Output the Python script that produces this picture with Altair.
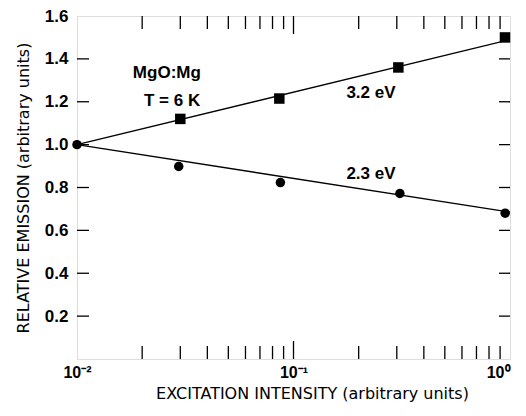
import altair as alt
import pandas as pd

# ---- data ----
sq_x = [0.030, 0.086, 0.305, 0.948]          # 3.2 eV (squares)
sq_y = [1.12, 1.215, 1.36, 1.50]
ci_x = [0.010, 0.0295, 0.087, 0.31, 0.95]    # 2.3 eV (circles)
ci_y = [1.00, 0.898, 0.823, 0.772, 0.68]

fit_series = ["3.2 eV", "3.2 eV", "2.3 eV", "2.3 eV"]
fit_x = [0.01, 1.0, 0.01, 1.0]
fit_y = [1.0, 1.49, 1.0, 0.685]

x_minor = [0.02, 0.03, 0.04, 0.05, 0.06, 0.07, 0.08, 0.09,
           0.2, 0.3, 0.4, 0.5, 0.6, 0.7, 0.8, 0.9]
x_major = [0.1]
x_labels = [0.01, 0.1, 1.0]
y_ticks = [0.2, 0.4, 0.6, 0.8, 1.0, 1.2, 1.4]
y_labels = [0.2, 0.4, 0.6, 0.8, 1.0, 1.2, 1.4, 1.6]

W, H = 433, 343

sq = pd.DataFrame({"x": sq_x, "y": sq_y})
ci = pd.DataFrame({"x": ci_x, "y": ci_y})
fit = pd.DataFrame({"series": fit_series, "x": fit_x, "y": fit_y})
xmin = pd.DataFrame({"x": x_minor})
xmaj = pd.DataFrame({"x": x_major})
yt = pd.DataFrame({"y": y_ticks})

xscale = alt.Scale(type="log", domain=[0.01, 1.0], nice=False)
yscale = alt.Scale(domain=[0, 1.6], nice=False, zero=False)

xaxis = alt.Axis(
    values=x_labels,
    labelExpr="datum.value == 1 ? '10⁰' : (datum.value < 0.05 ? '10⁻²' : '10⁻¹')",
    labelAlign={"condition": {"test": "datum.value >= 1", "value": "right"}, "value": "center"},
    labelFont="Liberation Sans", labelFontSize=16, labelFontWeight="bold",
    labelColor="black", labelPadding=5, labelBaseline="top",
    ticks=False, tickSize=0, domain=False, grid=False,
    title="EXCITATION INTENSITY (arbitrary units)",
    titleFont="DejaVu Sans", titleFontSize=16, titleFontWeight="normal",
    titleColor="black", titleX=235, titleY=26, titleBaseline="top",
)
yaxis = alt.Axis(
    values=y_labels, format=".1f",
    labelFont="Liberation Sans", labelFontSize=17, labelFontWeight="bold",
    labelColor="black", labelPadding=9,
    ticks=False, tickSize=0, domain=False, grid=False,
    title="RELATIVE EMISSION (arbitrary units)",
    titleFont="DejaVu Sans", titleFontSize=16, titleFontWeight="normal",
    titleColor="black", titleX=-46, titleY=H / 2, titleAngle=270,
    titleBaseline="bottom", titleAlign="center",
)


def X(field="x"):
    return alt.X(f"{field}:Q", scale=xscale, axis=xaxis)


def Y(field="y"):
    return alt.Y(f"{field}:Q", scale=yscale, axis=yaxis)


lines = alt.Chart(fit).mark_line(color="black", strokeWidth=1.4).encode(
    x=X(), y=Y(), detail="series:N"
)
squares = alt.Chart(sq).mark_point(
    shape="square", filled=True, color="black", opacity=1, size=110
).encode(x=X(), y=Y())
circles = alt.Chart(ci).mark_point(
    shape="circle", filled=True, color="black", opacity=1, size=90
).encode(x=X(), y=Y())

tick_bot_min = alt.Chart(xmin).mark_rule(color="black", strokeWidth=1.3).encode(
    x=X(), y=alt.value(H), y2=alt.value(H - 13))
tick_top_min = alt.Chart(xmin).mark_rule(color="black", strokeWidth=1.3).encode(
    x=X(), y=alt.value(0), y2=alt.value(13))
tick_bot_maj = alt.Chart(xmaj).mark_rule(color="black", strokeWidth=1.3).encode(
    x=X(), y=alt.value(H), y2=alt.value(H - 18))
tick_top_maj = alt.Chart(xmaj).mark_rule(color="black", strokeWidth=1.3).encode(
    x=X(), y=alt.value(0), y2=alt.value(18))
tick_left = alt.Chart(yt).mark_rule(color="black", strokeWidth=1.3).encode(
    y=Y(), x=alt.value(0), x2=alt.value(12))
tick_right = alt.Chart(yt).mark_rule(color="black", strokeWidth=1.3).encode(
    y=Y(), x=alt.value(W), x2=alt.value(W - 11))

txt_style = dict(font="Liberation Sans", fontSize=17, fontWeight="bold",
                 color="black", align="center", baseline="middle")
t1 = alt.Chart().mark_text(text="MgO:Mg", **txt_style).encode(
    x=alt.datum(0.026, scale=xscale), y=alt.datum(1.335, scale=yscale))
t2 = alt.Chart().mark_text(text="T = 6 K", **txt_style).encode(
    x=alt.datum(0.0275, scale=xscale), y=alt.datum(1.205, scale=yscale))
t3 = alt.Chart().mark_text(text="3.2 eV", **txt_style).encode(
    x=alt.datum(0.228, scale=xscale), y=alt.datum(1.242, scale=yscale))
t4 = alt.Chart().mark_text(text="2.3 eV", **txt_style).encode(
    x=alt.datum(0.228, scale=xscale), y=alt.datum(0.865, scale=yscale))

chart = alt.layer(
    lines, squares, circles,
    tick_bot_min, tick_top_min, tick_bot_maj, tick_top_maj, tick_left, tick_right,
    t1, t2, t3, t4,
).properties(
    width=W, height=H,
    padding={"left": 69, "top": 8, "right": 8, "bottom": 47},
    autosize=alt.AutoSizeParams(type="none"),
).configure_view(stroke="black", strokeWidth=1.5).configure(background="white")

chart.save("out.html", embed_options={"renderer": "svg", "actions": False})
